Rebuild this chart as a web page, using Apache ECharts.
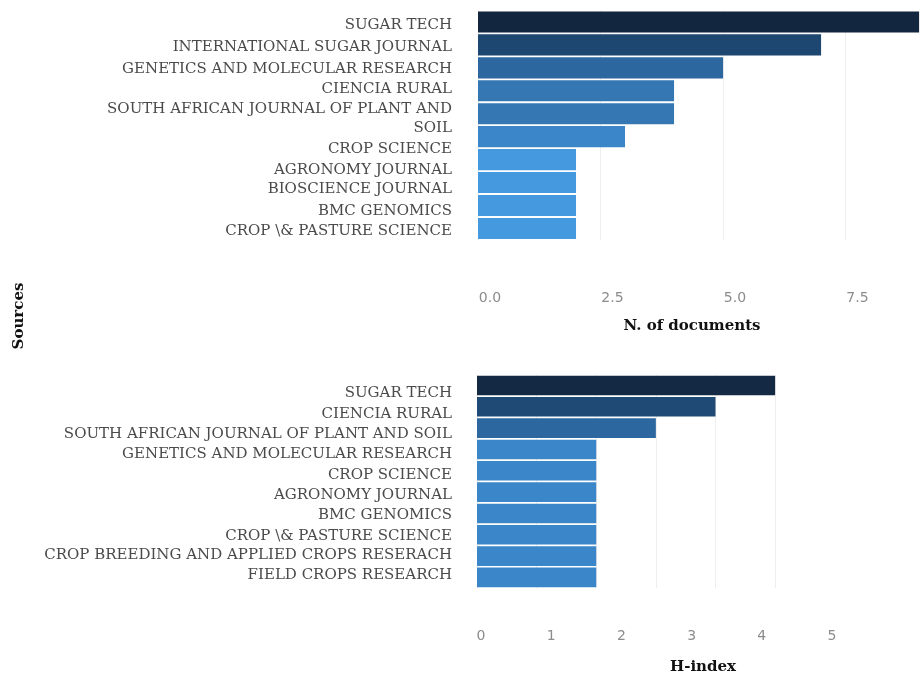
<!DOCTYPE html>
<html>
<head>
<meta charset="utf-8">
<script src="https://cdn.jsdelivr.net/npm/echarts@6/dist/echarts.min.js"></script>
<style>
html,body{margin:0;padding:0;background:#fff;}
#chart{width:924px;height:679px;}
</style>
</head>
<body>
<div id="chart"></div>
<script>
// ---- data ----
var docSources = ["SUGAR TECH", "INTERNATIONAL SUGAR JOURNAL", "GENETICS AND MOLECULAR RESEARCH", "CIENCIA RURAL", "SOUTH AFRICAN JOURNAL OF PLANT AND\nSOIL", "CROP SCIENCE", "AGRONOMY JOURNAL", "BIOSCIENCE JOURNAL", "BMC GENOMICS", "CROP \\& PASTURE SCIENCE"];
var docCounts = [9, 7, 5, 4, 4, 3, 2, 2, 2, 2];
var docTicks = [0, 2.5, 5, 7.5];

var hSources = ["SUGAR TECH", "CIENCIA RURAL", "SOUTH AFRICAN JOURNAL OF PLANT AND SOIL", "GENETICS AND MOLECULAR RESEARCH", "CROP SCIENCE", "AGRONOMY JOURNAL", "BMC GENOMICS", "CROP \\& PASTURE SCIENCE", "CROP BREEDING AND APPLIED CROPS RESERACH", "FIELD CROPS RESEARCH"];
var hIndex = [5, 4, 3, 2, 2, 2, 2, 2, 2, 2];
var hTicks = [0, 1, 2, 3, 4, 5];

var titleDocs = "N. of documents";
var titleH = "H-index";
var titleSources = "Sources";

// ---- styles ----
var serif = "DejaVu Serif";
var catFont = {color: "#4a4a4a", fontFamily: serif, fontSize: 15};
var tickLabel = {color: "#8c8c8c", fontFamily: "DejaVu Sans", fontSize: 14};
var gridLine = {show: true, showMaxLine: false, lineStyle: {color: "#eeeeee", width: 1}};
// vertical nudges (px) of the category labels, as laid out in the original figure
var docLabelNudge = [3, 2.5, 1, -2, 4.5, 12, 10, 7, 6, 3];
var hLabelNudge = [8, 7, 6, 5, 4, 3, 1.5, 1, -1, -2];
var wrapGap = 4;

function nudgedLabel(names, nudges, margin) {
  var rich = {};
  names.forEach(function (n, i) {
    var d = nudges[i];
    var lines = n.split("\n");
    lines.forEach(function (ln, j) {
      var pad;
      if (j === 0) pad = d >= 0 ? [2 * d, 0, 0, 0] : [0, 0, -2 * d, 0];
      else pad = [wrapGap, 0, 0, 0];
      rich["t" + i + "_" + j] = Object.assign({padding: pad}, catFont);
    });
  });
  return Object.assign({
    margin: margin, interval: 0, showMinLabel: true, showMaxLabel: true, hideOverlap: false,
    rich: rich,
    formatter: function (value, index) {
      return value.split("\n").map(function (ln, j) {
        return "{t" + index + "_" + j + "|" + ln + "}";
      }).join("\n");
    }
  }, catFont);
}

var chart = echarts.init(document.getElementById("chart"), null, {renderer: "canvas"});

chart.setOption({
  backgroundColor: "#ffffff",
  animation: false,
  grid: [
    {left: 478, right: 0, top: 10.5, height: 229.4},
    {left: 490, width: 367.5, top: 280, height: 1},
    {left: 477, width: 316, top: 374.8, height: 213.3},
    {left: 481, width: 351, top: 618, height: 1}
  ],
  xAxis: [
    {gridIndex: 0, type: "value", min: 0, max: 9.1, interval: 2.5,
     axisLine: {show: false}, axisTick: {show: false}, axisLabel: {show: false}, splitLine: gridLine},
    {gridIndex: 1, type: "value", min: docTicks[0], max: docTicks[docTicks.length - 1], interval: docTicks[1] - docTicks[0],
     axisLine: {show: false}, axisTick: {show: false}, splitLine: {show: false},
     axisLabel: Object.assign({margin: 10, formatter: function (v) { return v.toFixed(1); }}, tickLabel)},
    {gridIndex: 2, type: "value", min: 0, max: 5.3, interval: 1,
     axisLine: {show: false}, axisTick: {show: false}, axisLabel: {show: false}, splitLine: gridLine},
    {gridIndex: 3, type: "value", min: hTicks[0], max: hTicks[hTicks.length - 1], interval: hTicks[1] - hTicks[0],
     axisLine: {show: false}, axisTick: {show: false}, splitLine: {show: false},
     axisLabel: Object.assign({margin: 10}, tickLabel)}
  ],
  yAxis: [
    {gridIndex: 0, type: "category", data: docSources, inverse: true,
     axisLine: {show: false}, axisTick: {show: false}, splitLine: {show: false},
     axisLabel: nudgedLabel(docSources, docLabelNudge, 26)},
    {gridIndex: 1, type: "value", show: false},
    {gridIndex: 2, type: "category", data: hSources, inverse: true,
     axisLine: {show: false}, axisTick: {show: false}, splitLine: {show: false},
     axisLabel: nudgedLabel(hSources, hLabelNudge, 25)},
    {gridIndex: 3, type: "value", show: false}
  ],
  visualMap: [
    {show: false, seriesIndex: 0, dimension: 0, min: 2, max: 9,
     inRange: {color: ["#4599df", "#3b86c8", "#3577b3", "#2d679f", "#255788", "#1d4670", "#183658", "#13263f"]}},
    {show: false, seriesIndex: 1, dimension: 0, min: 2, max: 5,
     inRange: {color: ["#3a86c8", "#2c67a0", "#1f4a75", "#142a44"]}}
  ],
  series: [
    {type: "bar", xAxisIndex: 0, yAxisIndex: 0, data: docCounts, barCategoryGap: "8%", silent: true},
    {type: "bar", xAxisIndex: 2, yAxisIndex: 2, data: hIndex, barCategoryGap: "8%", silent: true}
  ],
  graphic: [
    {type: "text", x: 692, y: 326, style: {text: titleDocs, fontFamily: serif, fontWeight: "bold", fontSize: 15, fill: "#111", align: "center", verticalAlign: "middle"}},
    {type: "text", x: 703, y: 667, style: {text: titleH, fontFamily: serif, fontWeight: "bold", fontSize: 15, fill: "#111", align: "center", verticalAlign: "middle"}},
    {type: "text", x: 19, y: 316, rotation: Math.PI / 2, style: {text: titleSources, fontFamily: serif, fontWeight: "bold", fontSize: 15, fill: "#111", align: "center", verticalAlign: "middle"}}
  ]
});
</script>
</body>
</html>
